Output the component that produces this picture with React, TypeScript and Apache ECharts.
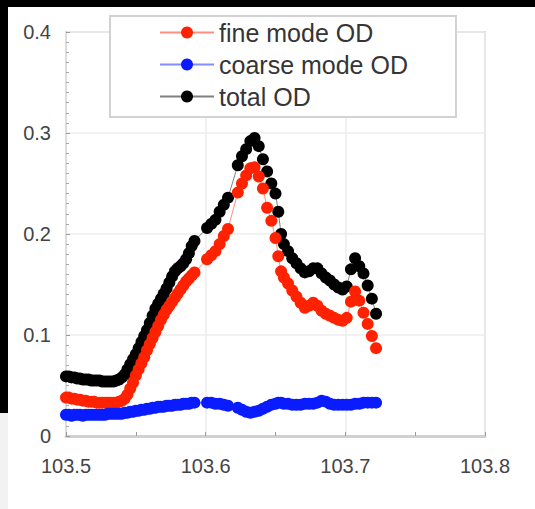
import { useEffect, useRef } from "react";
import * as echarts from "echarts";

// Longitude (deg E) of each sample along the track
const longitude = [
  103.5, 103.502, 103.504, 103.506, 103.508, 103.51, 103.512, 103.514, 103.516, 103.518,
  103.52, 103.522, 103.524, 103.526, 103.528, 103.53, 103.532, 103.534, 103.536,
  103.538, 103.54, 103.542, 103.544, 103.546, 103.548, 103.55, 103.552, 103.554, 103.556,
  103.558, 103.56, 103.562, 103.564, 103.566, 103.568, 103.57, 103.572, 103.574, 103.576,
  103.578, 103.58, 103.582, 103.584, 103.586, 103.588, 103.59, 103.592,
  103.601, 103.604, 103.607, 103.61, 103.613, 103.616, 103.623, 103.626, 103.629, 103.632,
  103.635, 103.638, 103.641, 103.644, 103.647, 103.65, 103.652, 103.654, 103.656, 103.659,
  103.662, 103.665, 103.668, 103.671, 103.674, 103.677, 103.68, 103.683, 103.686, 103.689,
  103.692, 103.695, 103.698, 103.701, 103.704, 103.707, 103.71, 103.713, 103.716, 103.719,
  103.722,
];

const fineOD = [
  0.038, 0.038, 0.037, 0.037, 0.036, 0.036, 0.035, 0.035, 0.034, 0.034,
  0.034, 0.033, 0.033, 0.033, 0.033, 0.033, 0.033, 0.033, 0.033,
  0.034, 0.035, 0.037, 0.041, 0.047, 0.053, 0.06, 0.066, 0.072, 0.078,
  0.085, 0.091, 0.097, 0.103, 0.109, 0.115, 0.12, 0.125, 0.129, 0.133,
  0.137, 0.141, 0.145, 0.149, 0.153, 0.156, 0.159, 0.162,
  0.175, 0.179, 0.183, 0.19, 0.198, 0.205, 0.241, 0.25, 0.258, 0.265,
  0.266, 0.257, 0.245, 0.226, 0.213, 0.196, 0.178, 0.163, 0.157, 0.151,
  0.144, 0.138, 0.132, 0.127, 0.129, 0.132, 0.129, 0.124, 0.121, 0.119,
  0.117, 0.115, 0.114, 0.117, 0.133, 0.143, 0.134, 0.122, 0.111, 0.099,
  0.087,
];

const coarseOD = [
  0.021, 0.021, 0.02, 0.021, 0.021, 0.021, 0.02, 0.021, 0.021, 0.021,
  0.021, 0.021, 0.021, 0.021, 0.021, 0.022, 0.022, 0.022, 0.022,
  0.022, 0.022, 0.023, 0.023, 0.024, 0.024, 0.025, 0.025, 0.026, 0.026,
  0.027, 0.027, 0.028, 0.028, 0.029, 0.029, 0.029, 0.03, 0.03, 0.03,
  0.031, 0.031, 0.031, 0.032, 0.032, 0.032, 0.033, 0.033,
  0.033, 0.033, 0.032, 0.032, 0.031, 0.03, 0.028, 0.026, 0.024, 0.023,
  0.024, 0.025, 0.027, 0.029, 0.031, 0.032, 0.033, 0.033, 0.032, 0.032,
  0.031, 0.031, 0.031, 0.032, 0.032, 0.032, 0.033, 0.035, 0.034, 0.032,
  0.031, 0.031, 0.031, 0.031, 0.031, 0.032, 0.032, 0.033, 0.033, 0.033,
  0.033,
];

const totalOD = [
  0.059, 0.059, 0.058, 0.058, 0.057, 0.057, 0.056, 0.056, 0.056, 0.055,
  0.055, 0.055, 0.055, 0.054, 0.054, 0.054, 0.054, 0.054, 0.055,
  0.056, 0.058, 0.061, 0.066, 0.071, 0.076, 0.081, 0.087, 0.093, 0.099,
  0.105, 0.112, 0.119, 0.126, 0.131, 0.136, 0.141, 0.146, 0.152, 0.158,
  0.163, 0.166, 0.168, 0.171, 0.175, 0.181, 0.188, 0.193,
  0.206, 0.21, 0.214, 0.222, 0.229, 0.236, 0.268, 0.277, 0.284, 0.292,
  0.295, 0.287, 0.274, 0.262, 0.25, 0.24, 0.222, 0.2, 0.19, 0.183,
  0.176, 0.171, 0.166, 0.162, 0.163, 0.166, 0.166, 0.161, 0.157, 0.154,
  0.15, 0.147, 0.145, 0.148, 0.165, 0.176, 0.168, 0.161, 0.149, 0.136,
  0.121,
];

const seriesNames = ["fine mode OD", "coarse mode OD", "total OD"];

const FONT = "'Liberation Sans', Arial, sans-serif";

const toPoints = (values: number[]) => longitude.map((lon, i) => [lon, values[i]]);

export default function App() {
  const ref = useRef<HTMLDivElement>(null);

  useEffect(() => {
    if (!ref.current) return;
    const chart = echarts.init(ref.current, undefined, { renderer: "svg" });

    const dotSeries = (name: string, color: string, values: number[], z: number) => ({
      name,
      type: "line",
      data: toPoints(values),
      symbol: "circle",
      symbolSize: 12,
      showSymbol: true,
      itemStyle: { color },
      lineStyle: { color, width: 1, opacity: 0.5 },
      z,
    });

    chart.setOption({
      animation: false,
      backgroundColor: "#ffffff",
      textStyle: { fontFamily: FONT },
      grid: {
        left: 66,
        top: 32,
        width: 419,
        height: 404,
        show: true,
        borderColor: "#d6d6d6",
        borderWidth: 2,
        backgroundColor: "transparent",
      },
      legend: {
        data: seriesNames,
        orient: "vertical",
        left: 110,
        top: 16,
        itemWidth: 54,
        itemHeight: 15,
        itemGap: 7,
        padding: [4, 48, 8, 49],
        backgroundColor: "#ffffff",
        borderColor: "#d2d2d2",
        borderWidth: 2,
        borderRadius: 0,
        textStyle: { fontSize: 25, lineHeight: 25, color: "#353535", fontFamily: FONT },
        z: 10,
      },
      xAxis: {
        type: "value",
        min: 103.5,
        max: 103.8,
        interval: 0.1,
        axisLine: { show: true, onZero: false, lineStyle: { color: "#d0d0d0", width: 3 } },
        axisTick: { show: true, inside: true, length: 4, lineStyle: { color: "#9a9a9a" } },
        minorTick: { show: true, splitNumber: 2, length: 4, lineStyle: { color: "#9a9a9a" } },
        splitLine: { show: true, lineStyle: { color: "#ececec", width: 1.5 } },
        axisLabel: {
          fontSize: 20,
          color: "#444",
          margin: 20,
          fontFamily: FONT,
          formatter: (v: number) => v.toFixed(1),
        },
      },
      yAxis: {
        type: "value",
        min: 0,
        max: 0.4,
        interval: 0.1,
        axisLine: { show: true, onZero: false, lineStyle: { color: "#d8d8d8", width: 1.5 } },
        axisTick: { show: true, inside: true, length: 4, lineStyle: { color: "#9a9a9a" } },
        minorTick: { show: true, splitNumber: 10, length: 3, lineStyle: { color: "#a8a8a8" } },
        splitLine: { show: true, lineStyle: { color: "#ececec", width: 1.5 } },
        axisLabel: {
          fontSize: 20,
          color: "#444",
          margin: 15,
          fontFamily: FONT,
          formatter: (v: number) => (v === 0 ? "0" : v.toFixed(1)),
        },
      },
      series: [
        dotSeries("total OD", "#000000", totalOD, 2),
        dotSeries("fine mode OD", "#ff2200", fineOD, 3),
        dotSeries("coarse mode OD", "#0a1cff", coarseOD, 4),
      ],
      graphic: [
        { type: "rect", left: 0, top: 0, shape: { width: 535, height: 7 }, style: { fill: "#000" }, z: 20 },
        { type: "rect", left: 0, top: 0, shape: { width: 8, height: 413 }, style: { fill: "#000" }, z: 20 },
        { type: "rect", left: 0, top: 413, shape: { width: 8, height: 96 }, style: { fill: "#f2f2f2" }, z: 20 },
      ],
    });

    return () => chart.dispose();
  }, []);

  return (
    <div
      ref={ref}
      style={{ position: "absolute", left: 0, top: 0, width: 535, height: 509, background: "#fff" }}
    />
  );
}
